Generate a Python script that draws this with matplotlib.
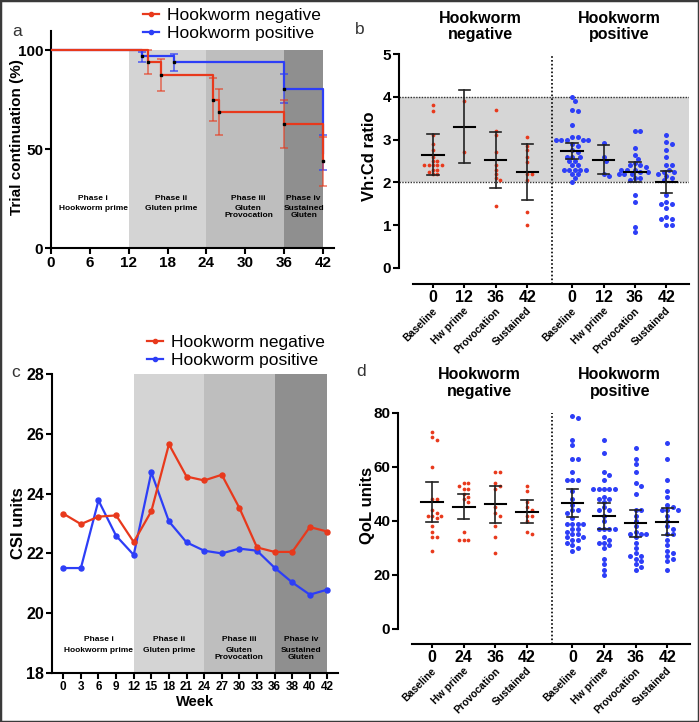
import numpy as np
import matplotlib.pyplot as plt
from matplotlib.lines import Line2D
from matplotlib.patches import Rectangle

plt.rcParams['font.family'] = ['Liberation Sans', 'DejaVu Sans']

# ---- data: panel a (Kaplan-Meier trial continuation)
km_neg_week = [0, 15, 17, 25, 26, 36, 42]
km_neg_pct = [100, 93.75, 87.5, 75, 68.75, 62.5, 43.75]
km_neg_lo = [87.7, 79.3, 64.1, 57.0, 50.5, 31.3]
km_neg_hi = [100, 95.6, 85.9, 80.3, 74.6, 56.2]
km_pos_week = [0, 14, 19, 36, 42]
km_pos_pct = [100, 96.9, 93.75, 80.5, 48]
km_pos_lo = [93.8, 89.2, 73.4, 39.4]
km_pos_hi = [99.0, 98.1, 87.7, 57.2]

phase_weeks = [0, 12, 24, 36, 42]
phase_titles = ['Phase i', 'Phase ii', 'Phase iii', 'Phase iv']
phase_desc = ['Hookworm prime', 'Gluten prime', 'Gluten\nProvocation', 'Sustained\nGluten']

# ---- data: panel c (CSI)
csi_weeks = ['0', '3', '6', '9', '12', '15', '18', '21', '24', '27', '30', '33', '36', '38', '40', '42']
csi_neg = [23.33, 22.98, 23.23, 23.27, 22.38, 23.41, 25.65, 24.57, 24.44, 24.63, 23.52, 22.20, 22.05, 22.05, 22.88, 22.73]
csi_pos = [21.51, 21.51, 23.77, 22.59, 21.95, 24.71, 23.07, 22.37, 22.09, 22.00, 22.16, 22.09, 21.52, 21.03, 20.62, 20.79]

# ---- data: panel b (Vh:Cd ratio)
timepoints = ['Baseline', 'Hw prime', 'Provocation', 'Sustained']
vhcd_weeks = ['0', '12', '36', '42']
vhcd_neg = [
    [3.8, 3.66, 3.1, 2.9, 2.75, 2.6, 2.5, 2.5, 2.4, 2.4, 2.4, 2.4, 2.4, 2.3, 2.3, 2.25, 2.2, 2.2],
    [3.9, 2.7],
    [3.7, 3.2, 3.1, 2.7, 2.4, 2.3, 2.2, 2.1, 2.05, 1.44],
    [3.05, 2.85, 2.75, 2.6, 2.47, 2.2, 2.2, 2.05, 1.3, 1.0],
]
vhcd_pos = [
    [4.0, 3.9, 3.7, 3.67, 3.33, 3.05, 3.05, 3.0, 3.0, 3.0, 3.0, 3.0, 2.9, 2.85, 2.75, 2.7,
     2.6, 2.6, 2.6, 2.5, 2.5, 2.4, 2.4, 2.3, 2.3, 2.3, 2.3, 2.3, 2.2, 2.2, 2.1, 2.0],
    [2.93, 2.6, 2.5, 2.2, 2.15],
    [3.2, 3.2, 2.8, 2.65, 2.55, 2.45, 2.4, 2.4, 2.35, 2.3, 2.3, 2.3, 2.25, 2.25, 2.2, 2.2,
     2.2, 2.1, 2.1, 2.05, 1.7, 1.55, 0.95, 0.83],
    [3.1, 2.95, 2.9, 2.75, 2.6, 2.4, 2.4, 2.3, 2.25, 2.25, 2.2, 2.15, 2.1, 2.05, 1.7, 1.55,
     1.5, 1.5, 1.4, 1.2, 1.15, 1.15, 1.0, 1.0],
]
vhcd_mean_neg = [2.65, 3.3, 2.52, 2.25]
vhcd_lo_neg = [2.17, 2.45, 1.86, 1.59]
vhcd_hi_neg = [3.13, 4.15, 3.18, 2.9]
vhcd_mean_pos = [2.74, 2.53, 2.24, 2.01]
vhcd_lo_pos = [2.55, 2.2, 2.01, 1.76]
vhcd_hi_pos = [2.93, 2.87, 2.47, 2.26]

# ---- data: panel d (QoL)
qol_weeks = ['0', '24', '36', '42']
qol_neg = [
    [73, 71, 70, 60, 48, 48, 44, 43, 42, 42, 42, 41, 38, 36, 34, 34, 29],
    [54, 54, 53, 52, 52, 50, 49, 48, 47, 36, 33, 33, 33],
    [58, 58, 54, 53, 52, 45, 43, 42, 38, 34, 28],
    [53, 51, 47, 45, 44, 42, 42, 40, 36, 35],
]
qol_pos = [
    [79, 78, 70, 68, 63, 63, 58, 55, 55, 55, 51, 48, 46, 44, 44, 43, 41, 39, 39, 39, 39,
     37, 37, 36, 35, 35, 34, 34, 33, 33, 32, 31, 30, 29],
    [70, 65, 58, 57, 55, 52, 52, 52, 52, 52, 49, 48, 48, 47, 45, 44, 44, 42, 40, 37, 37,
     37, 37, 34, 33, 32, 32, 31, 30, 26, 24, 22, 20],
    [67, 63, 61, 58, 54, 53, 50, 44, 44, 42, 40, 38, 36, 35, 35, 35, 34, 32, 30, 28, 27,
     27, 26, 25, 24, 23, 22],
    [69, 63, 55, 51, 49, 46, 45, 44, 44, 44, 42, 40, 38, 37, 35, 35, 33, 31, 29, 28, 27,
     26, 25, 22],
]
qol_mean_neg = [47.1, 45.3, 46.2, 43.5]
qol_lo_neg = [39.8, 40.6, 39.4, 39.4]
qol_hi_neg = [54.6, 50.0, 53.0, 47.8]
qol_mean_pos = [46.8, 41.9, 39.1, 39.75]
qol_lo_pos = [41.4, 36.9, 33.9, 34.8]
qol_hi_pos = [51.8, 46.8, 44.1, 44.9]

RED = '#E8391C'
BLUE = '#2D3EF7'
SHADES = ['#D4D4D4', '#BEBEBE', '#8F8F8F']

W, H = 699, 722
fig = plt.figure(figsize=(W / 100, H / 100), dpi=100)


def box(l, t, r, b):
    return [l / W, 1 - b / H, (r - l) / W, (b - t) / H]


def style(ax, labelsize=11):
    for s in ['top', 'right']:
        ax.spines[s].set_visible(False)
    for s in ['left', 'bottom']:
        ax.spines[s].set_linewidth(1.5)
    ax.tick_params(width=1.5, length=4, labelsize=labelsize, pad=1.5)
    for lab in ax.get_xticklabels() + ax.get_yticklabels():
        lab.set_fontweight('bold')


def swarm(vals, centre, px_x, px_y, dot):
    placed = []
    xs = []
    step = dot * 0.5
    for v in vals:
        y = v * px_y
        k = 0
        while True:
            off = ((k + 1) // 2) * step * (1 if k % 2 else -1)
            if all((off - px) ** 2 + (y - py) ** 2 >= (dot * 0.92) ** 2 for px, py in placed):
                break
            k += 1
        placed.append((off, y))
        xs.append(centre + off / px_x)
    return xs


# ================= panel a =================
ax = fig.add_axes(box(51, 31, 334, 248))
for i in range(3):
    ax.fill_between(phase_weeks[i + 1:i + 3], 0.4, 100, color=SHADES[i], lw=0, zorder=0)
ax.step(km_pos_week, km_pos_pct, where='post', color=BLUE, lw=1.6, zorder=3)
ax.errorbar(km_pos_week[1:], km_pos_pct[1:],
            yerr=[np.array(km_pos_pct[1:]) - km_pos_lo, np.array(km_pos_hi) - km_pos_pct[1:]],
            fmt='none', ecolor=BLUE, alpha=0.7, capsize=3, elinewidth=1.3, capthick=1.3, zorder=3)
ax.step(km_neg_week, km_neg_pct, where='post', color=RED, lw=1.6, zorder=4)
ax.errorbar(km_neg_week[1:], km_neg_pct[1:],
            yerr=[np.array(km_neg_pct[1:]) - km_neg_lo, np.array(km_neg_hi) - km_neg_pct[1:]],
            fmt='none', ecolor=RED, alpha=0.6, capsize=3, elinewidth=1.3, capthick=1.3, zorder=4)
ax.plot(km_neg_week[1:], km_neg_pct[1:], 's', color='k', ms=1.5, zorder=5)
ax.plot(km_pos_week[1:-1], km_pos_pct[1:-1], 's', color='k', ms=1.5, zorder=5)
centres_a = [6.5, 18.5, 30.5, 39]
for cx, t, d in zip(centres_a, phase_titles, phase_desc):
    ax.text(cx, 25.1, t, ha='center', va='center', fontsize=6, fontweight='bold', zorder=6)
    ax.text(cx, 21.6, d, ha='center', va='top', fontsize=6, fontweight='bold',
            linespacing=1.05, zorder=6)
ax.set_xlim(0, 43.7)
ax.set_ylim(0, 109.6)
ax.set_xticks(range(0, 43, 6))
ax.set_yticks([0, 50, 100])
ax.set_ylabel('Trial continuation (%)', fontsize=11, fontweight='bold')
ax.yaxis.set_label_coords(-0.095, 0.51)
style(ax)
handles = [Line2D([], [], color=RED, lw=1.6, marker='o', ms=3),
           Line2D([], [], color=BLUE, lw=1.6, marker='o', ms=3)]
fig.legend(handles, ['Hookworm negative', 'Hookworm positive'], loc='upper left',
           bbox_to_anchor=(143 / W, 1 - 8 / H), frameon=False, fontsize=12.5,
           handlelength=0.95, handletextpad=0.45, labelspacing=0.18,
           borderpad=0, borderaxespad=0)

# ================= panel c =================
ax = fig.add_axes(box(52, 374, 338, 673))
idx = np.arange(len(csi_weeks))
bounds = [csi_weeks.index(str(w)) for w in phase_weeks]
for i in range(3):
    ax.fill_between(bounds[i + 1:i + 3], 18, 28, color=SHADES[i], lw=0, zorder=0)
ax.plot(idx, csi_pos, '-o', color=BLUE, lw=1.6, ms=3.6, zorder=3)
ax.plot(idx, csi_neg, '-o', color=RED, lw=1.6, ms=3.6, zorder=4)
for i, (t, d) in enumerate(zip(phase_titles, phase_desc)):
    cx = (bounds[i] + bounds[i + 1]) / 2
    ax.text(cx, 19.13, t, ha='center', va='center', fontsize=6, fontweight='bold', zorder=6)
    ax.text(cx, 18.87, d, ha='center', va='top', fontsize=6, fontweight='bold',
            linespacing=1.05, zorder=6)
ax.set_xlim(-0.64, 15.6)
ax.set_ylim(18, 28)
ax.set_xticks(idx)
ax.set_xticklabels(csi_weeks)
ax.set_yticks(range(18, 29, 2))
ax.set_xlabel('Week', fontsize=10.5, fontweight='bold', labelpad=2)
ax.set_ylabel('CSI units', fontsize=12, fontweight='bold')
ax.yaxis.set_label_coords(-0.092, 0.5)
style(ax, 11.5)
ax.tick_params(axis='x', labelsize=8.5)
handles = [Line2D([], [], color=RED, lw=1.6, marker='o', ms=3),
           Line2D([], [], color=BLUE, lw=1.6, marker='o', ms=3)]
fig.legend(handles, ['Hookworm negative', 'Hookworm positive'], loc='upper left',
           bbox_to_anchor=(147 / W, 1 - 335 / H), frameon=False, fontsize=12.5,
           handlelength=0.95, handletextpad=0.45, labelspacing=0.18,
           borderpad=0, borderaxespad=0)

# ================= panels b and d =================
PX_X = 31.4
neg_pos = [0, 1, 2, 3]
pos_pos = [4.43, 5.43, 6.43, 7.43]


def dot_panel(rect, ylim, yticks, ylabel, label_x, label_y, week_labels, neg, pos, mneg, lneg, hneg,
              mpos, lpos, hpos, px_y, header_y, band=None):
    ax = fig.add_axes(box(*rect))
    if band is not None:
        ax.axhspan(band[0], band[1], color='#D6D6D6', lw=0, zorder=0)
        for b in band:
            ax.axhline(b, color='#333333', lw=1.0, ls=(0, (1, 1)), zorder=1)
    ax.axvline(3.79, color='black', lw=1.2, ls=(0, (1, 1.3)), zorder=1)
    for grp, xs_c, col, dot, ms in [(neg, neg_pos, RED, 4.4, 2.7), (pos, pos_pos, BLUE, 5.4, 3.6)]:
        for vals, c in zip(grp, xs_c):
            xs = swarm(vals, c, PX_X, px_y, dot)
            ax.plot(xs, vals, 'o', color=col, ms=ms, mec='none', zorder=3)
    for xs_c, m, lo, hi in [(neg_pos, mneg, lneg, hneg), (pos_pos, mpos, lpos, hpos)]:
        for c, mv, l, h in zip(xs_c, m, lo, hi):
            ax.plot([c - 0.34, c + 0.34], [mv, mv], color='black', lw=1.5, zorder=5)
            ax.plot([c, c], [l, h], color='#222222', lw=1.2, zorder=5)
            ax.plot([c - 0.18, c + 0.18], [l, l], color='#222222', lw=1.2, zorder=5)
            ax.plot([c - 0.18, c + 0.18], [h, h], color='#222222', lw=1.2, zorder=5)
    ax.set_xlim(-1.08, 8.15)
    ax.set_ylim(*ylim)
    ax.spines['left'].set_bounds(yticks[0], yticks[-1])
    ax.spines['bottom'].set_bounds(-0.64, 8.15)
    ax.set_yticks(yticks)
    ax.set_xticks(neg_pos + pos_pos)
    ax.set_xticklabels(week_labels * 2)
    ax.set_ylabel(ylabel, fontsize=12, fontweight='bold')
    ax.yaxis.set_label_coords(label_x, label_y)
    style(ax)
    ax.tick_params(axis='x', labelsize=11.5, length=3, pad=1)
    for c, lab in zip(neg_pos + pos_pos, timepoints * 2):
        ax.annotate(lab, xy=(c, 0), xycoords=('data', 'axes fraction'), xytext=(2, -18),
                    textcoords='offset points', rotation=45, ha='right', va='center',
                    rotation_mode='anchor', fontsize=7.5, fontweight='bold')
    l, t, r, b = rect
    for gx, txt in [(np.mean(neg_pos), 'Hookworm\nnegative'), (np.mean(pos_pos), 'Hookworm\npositive')]:
        xpx = l + (gx + 1.08) * (r - l) / 9.23
        fig.text(xpx / W, 1 - header_y / H, txt, ha='center', va='center',
                 fontsize=11.5, fontweight='bold', linespacing=1.1)
    return ax


dot_panel((399, 54, 689, 284), (-0.374, 5), [0, 1, 2, 3, 4, 5], 'Vh:Cd ratio', -0.076, 0.555,
          vhcd_weeks, vhcd_neg, vhcd_pos, vhcd_mean_neg, vhcd_lo_neg, vhcd_hi_neg,
          vhcd_mean_pos, vhcd_lo_pos, vhcd_hi_pos, 42.8, 26.5, band=(2, 4))
dot_panel((398, 413, 690, 644), (-5.56, 80), [0, 20, 40, 60, 80], 'QoL units', -0.079, 0.6,
          qol_weeks, qol_neg, qol_pos, qol_mean_neg, qol_lo_neg, qol_hi_neg,
          qol_mean_pos, qol_lo_pos, qol_hi_pos, 2.7, 383)

# panel letters
for (x, y), s in zip([(17, 32), (360, 29), (16, 373), (361, 372)], 'abcd'):
    fig.text(x / W, 1 - y / H, s, ha='center', va='center', fontsize=12.5, color='#333333')

fig.add_artist(Rectangle((0, 0), 1, 1, transform=fig.transFigure, fill=False,
                         ec='#3a3a3a', lw=2.5))

fig.savefig('out.png', dpi=100)
